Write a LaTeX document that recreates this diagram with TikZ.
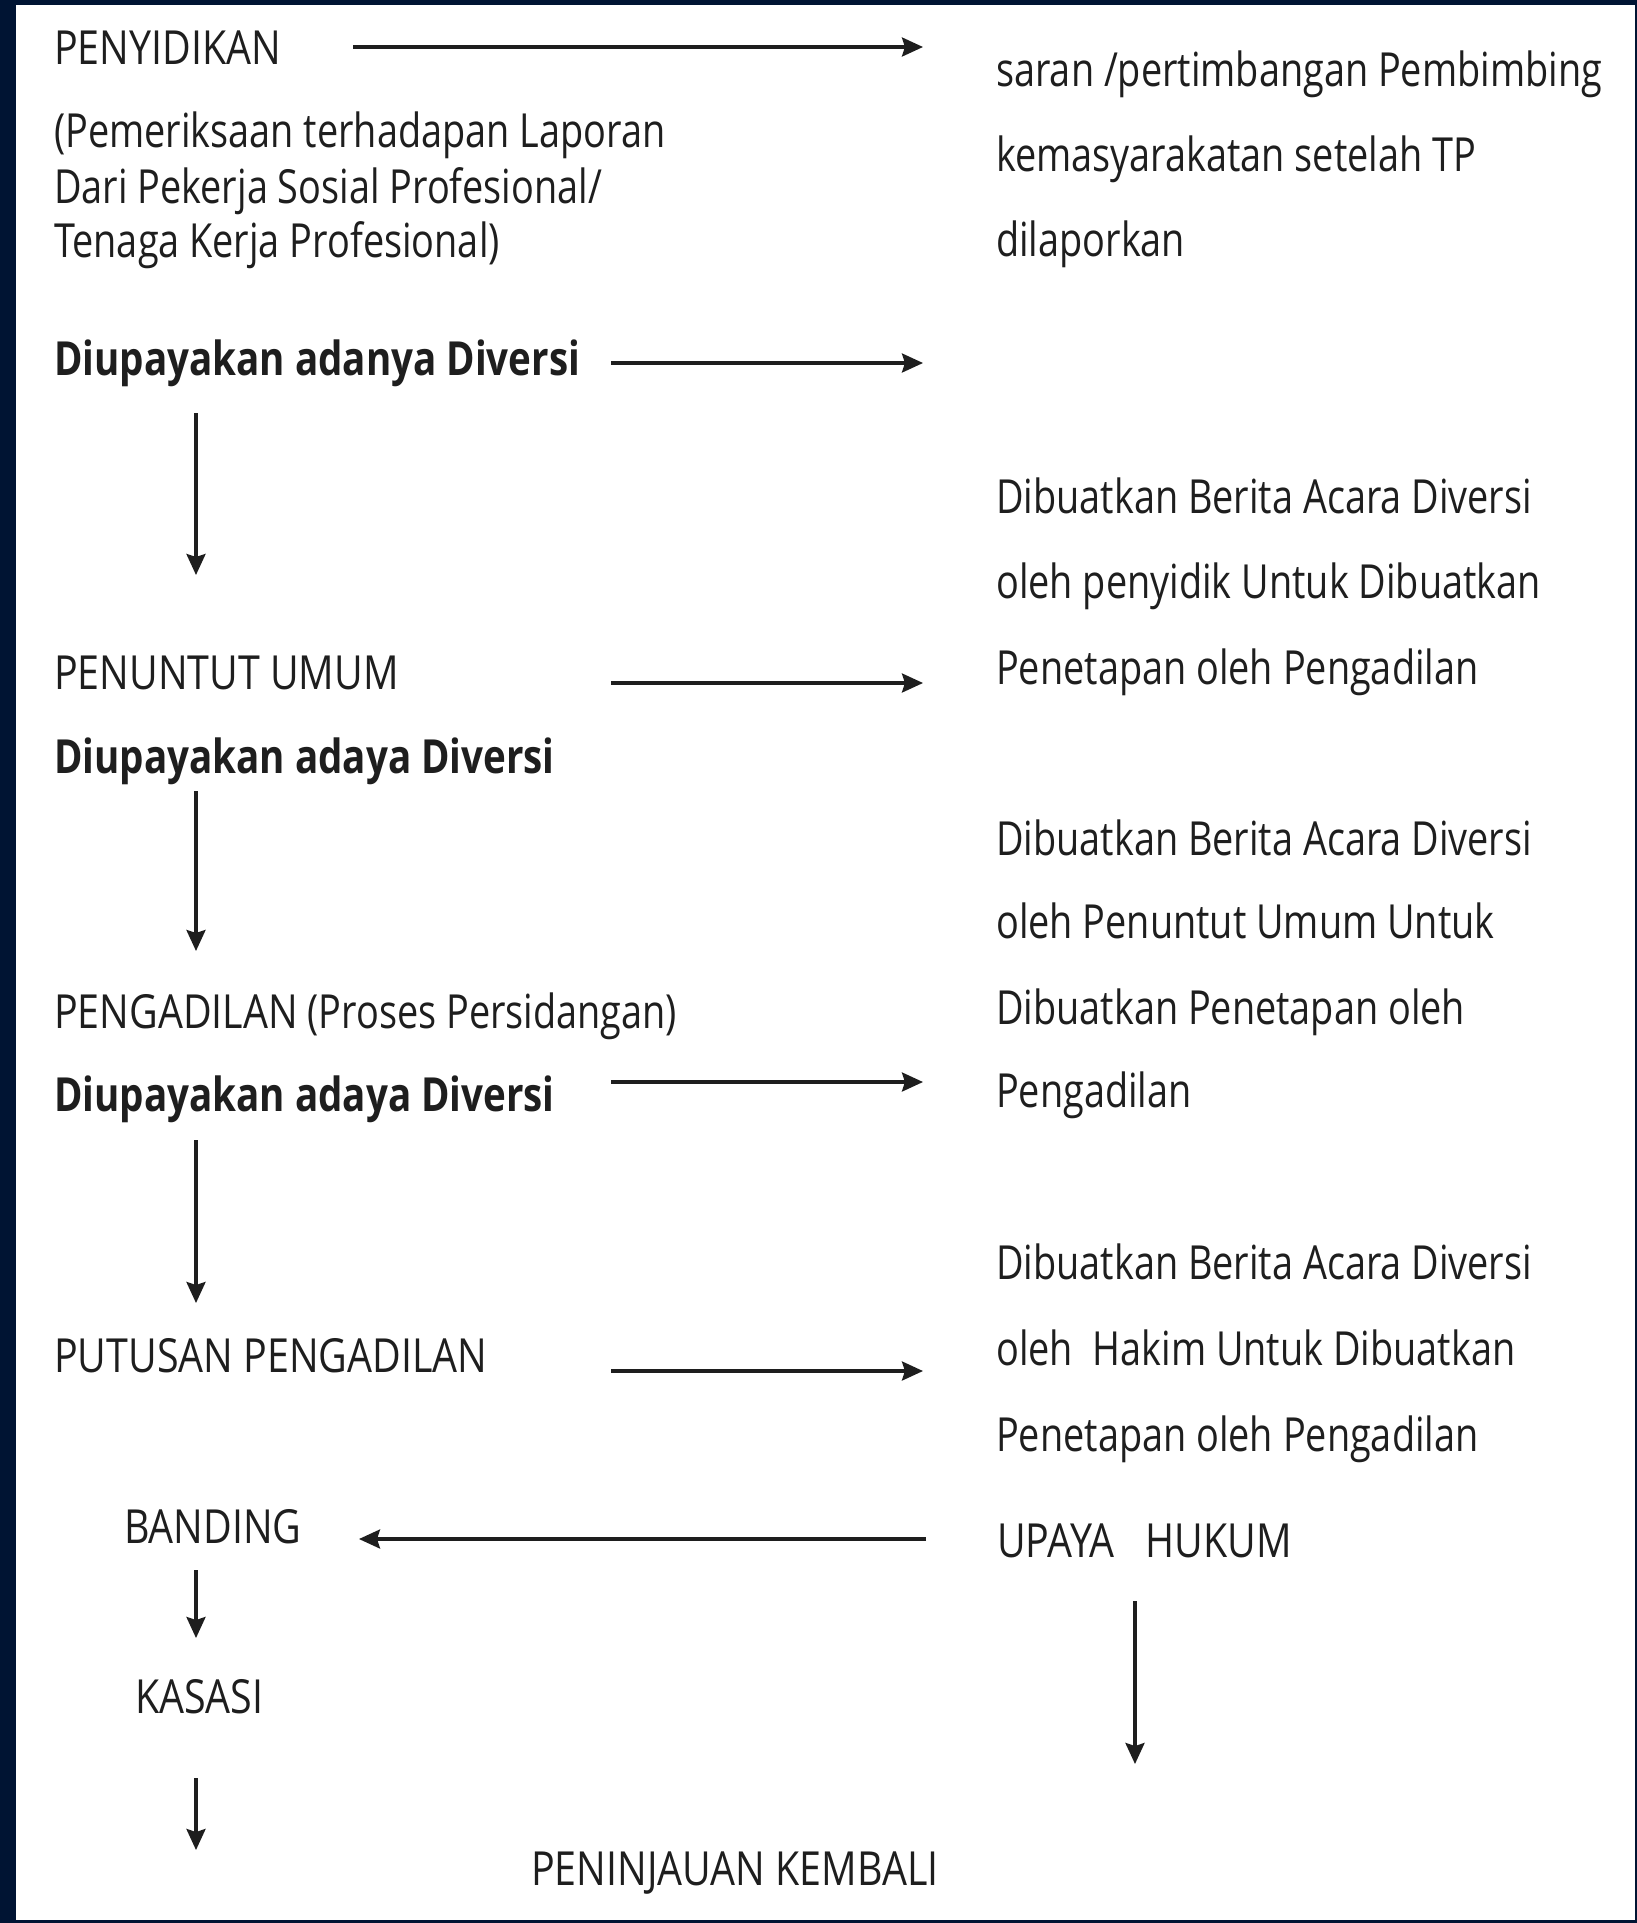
\documentclass[tikz,border=0pt]{standalone}
\usepackage{fontspec}
\usetikzlibrary{arrows.meta}
\setmainfont[FakeStretch=0.805,BoldFeatures={FakeStretch=0.82}]{Open Sans}
\newfontfamily\capsfont[FakeStretch=0.838]{Open Sans}
\definecolor{frame}{HTML}{001433}
\definecolor{ink}{HTML}{1E1E1E}
\tikzset{
  lbl/.style={anchor=base west, inner sep=0pt, text=ink, font=\fontsize{47}{56}\selectfont},
  clbl/.style={lbl, font=\fontsize{47}{56}\capsfont},
  blbl/.style={lbl, font=\fontsize{47}{56}\selectfont\bfseries},
  flow/.style={draw=ink, line width=3.1pt, -{Stealth[length=21pt,width=19pt,inset=3pt]}}
}
\begin{document}
\begin{tikzpicture}[x=1pt,y=-1pt]
  % page with dark frame
  \fill[frame] (0,0) rectangle (1637,1923);
  \fill[white] (16,5) rectangle (1635,1920);
  \useasboundingbox (0,0) rectangle (1637,1923);

  % left column: stages
  \node[clbl] (penyidikan) at (54,64) {PENYIDIKAN};
  \node[lbl] (pem1) at (54,147) {(Pemeriksaan terhadapan Laporan};
  \node[lbl] (pem2) at (54,203) {Dari Pekerja Sosial Profesional/};
  \node[lbl] (pem3) at (54,257) {Tenaga Kerja Profesional)};
  \node[blbl] (div1) at (54,375) {Diupayakan adanya Diversi};
  \node[clbl] (penuntut) at (54,689) {PENUNTUT UMUM};
  \node[blbl] (div2) at (54,773) {Diupayakan adaya Diversi};
  \node[lbl] (pengadilan) at (54,1028) {{\capsfont PENGADILAN} (Proses Persidangan)};
  \node[blbl] (div3) at (54,1111) {Diupayakan adaya Diversi};
  \node[clbl] (putusan) at (54,1372) {PUTUSAN PENGADILAN};
  \node[clbl] (banding) at (124,1543) {BANDING};
  \node[clbl] (kasasi) at (135,1713) {KASASI};
  \node[clbl] (pk) at (531,1885) {PENINJAUAN KEMBALI};

  % right column: outcomes
  \node[lbl] (saran1) at (996,86) {saran /pertimbangan Pembimbing};
  \node[lbl] (saran2) at (996,171) {kemasyarakatan setelah TP};
  \node[lbl] (saran3) at (996,256) {dilaporkan};
  \node[lbl] (bap1) at (996,513) {Dibuatkan Berita Acara Diversi};
  \node[lbl] (bap2) at (996,598) {oleh penyidik Untuk Dibuatkan};
  \node[lbl] (bap3) at (996,684) {Penetapan oleh Pengadilan};
  \node[lbl] (bau1) at (996,855) {Dibuatkan Berita Acara Diversi};
  \node[lbl] (bau2) at (996,938) {oleh Penuntut Umum Untuk};
  \node[lbl] (bau3) at (996,1024) {Dibuatkan Penetapan oleh};
  \node[lbl] (bau4) at (996,1107) {Pengadilan};
  \node[lbl] (bah1) at (996,1279) {Dibuatkan Berita Acara Diversi};
  \node[lbl] (bah2) at (996,1365) {oleh\ \ Hakim Untuk Dibuatkan};
  \node[lbl] (bah3) at (996,1451) {Penetapan oleh Pengadilan};
  \node[clbl] (upaya) at (997,1557) {UPAYA\ \ \ HUKUM};

  % connector end points
  \coordinate (a1s) at (353,47);   \coordinate (a1e) at (923,47);
  \coordinate (a2s) at (611,363);  \coordinate (a2e) at (923,363);
  \coordinate (a3s) at (611,683);  \coordinate (a3e) at (923,683);
  \coordinate (a4s) at (611,1082); \coordinate (a4e) at (923,1082);
  \coordinate (a5s) at (611,1371); \coordinate (a5e) at (923,1371);
  \coordinate (a6s) at (926,1539); \coordinate (a6e) at (359,1539);
  \coordinate (v1s) at (196,413);  \coordinate (v1e) at (196,575);
  \coordinate (v2s) at (196,791);  \coordinate (v2e) at (196,951);
  \coordinate (v3s) at (196,1140); \coordinate (v3e) at (196,1303);
  \coordinate (v4s) at (196,1570); \coordinate (v4e) at (196,1638);
  \coordinate (v5s) at (196,1778); \coordinate (v5e) at (196,1850);
  \coordinate (v6s) at (1135,1601); \coordinate (v6e) at (1135,1764);

  % horizontal connectors
  \draw[flow] (a1s) -- (a1e);
  \draw[flow] (a2s) -- (a2e);
  \draw[flow] (a3s) -- (a3e);
  \draw[flow] (a4s) -- (a4e);
  \draw[flow] (a5s) -- (a5e);
  \draw[flow] (a6s) -- (a6e);
  % vertical connectors
  \draw[flow] (v1s) -- (v1e);
  \draw[flow] (v2s) -- (v2e);
  \draw[flow] (v3s) -- (v3e);
  \draw[flow] (v4s) -- (v4e);
  \draw[flow] (v5s) -- (v5e);
  \draw[flow] (v6s) -- (v6e);
\end{tikzpicture}
\end{document}
